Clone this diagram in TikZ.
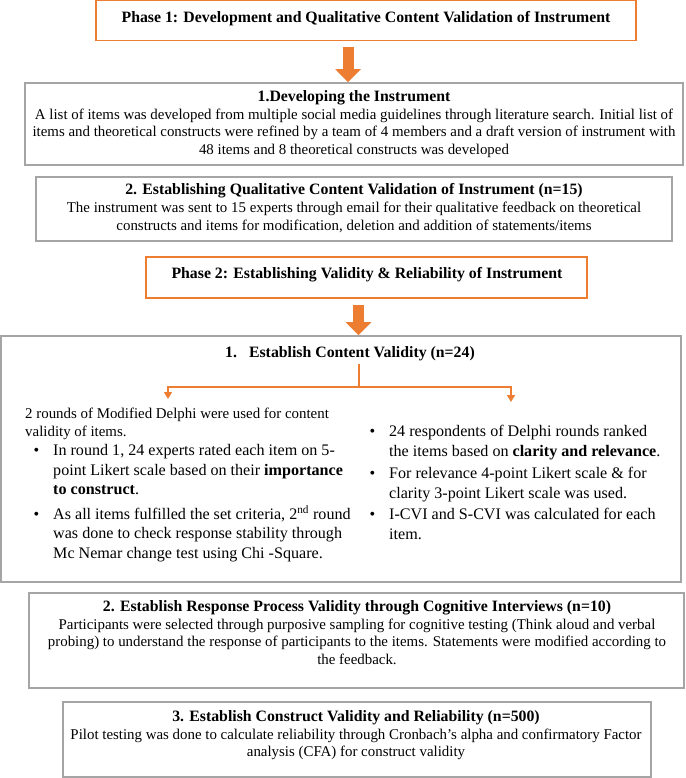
\documentclass[tikz,border=0pt]{standalone}
\usepackage{fontspec}
\setmainfont{Liberation Serif}
\usetikzlibrary{arrows.meta}

\definecolor{phaseorange}{HTML}{ED7D31}
\definecolor{boxgray}{HTML}{A5A5A5}
\newcommand{\hdfont}{\fontsize{15.8}{17.5}\selectfont\bfseries}
\newcommand{\bul}{\llap{\textbullet\hspace{14pt}}}

\begin{document}
\begin{tikzpicture}[
	x=1pt, y=-1pt,
	orangebox/.style={draw=phaseorange, line width=1.8pt, inner sep=0pt},
	graybox/.style={draw=boxgray, line width=1.8pt, inner sep=0pt},
	boxtext/.style={align=center, anchor=north, inner sep=0pt,
		font=\fontsize{14.9}{17.6}\selectfont},
	coltext/.style={align=left, anchor=north west, inner sep=0pt,
		font=\fontsize{16.1}{19.7}\selectfont},
	bigarrow/.style={draw=phaseorange, line width=11pt,
		-{Triangle[width=25pt,length=13pt]}},
	treeline/.style={draw=phaseorange, line width=1.4pt},
]
	\useasboundingbox (0,0) rectangle (685,778);

	% phase 1
	\node[orangebox, minimum width=540, minimum height=40] (phase1) at (366,20.5) {};
	\node[boxtext, font=\hdfont] (phase1txt) at (366,11)
		{Phase 1: Development and Qualitative Content Validation of Instrument};

	\node[graybox, minimum width=658, minimum height=82] (dev) at (354,124) {};
	\node[boxtext] (devtxt) at (354,90.5) {{\hdfont 1.Developing the Instrument}\\
		A list of items was developed from multiple social media guidelines through literature search. Initial list of\\
		items and theoretical constructs were refined by a team of 4 members and a draft version of instrument with\\
		48 items and 8 theoretical constructs was developed};

	\node[graybox, minimum width=636, minimum height=64] (qual) at (354,209) {};
	\node[boxtext] (qualtxt) at (354,183.5) {{\hdfont 2. Establishing Qualitative Content Validation of Instrument (n=15)}\\
		The instrument was sent to 15 experts through email for their qualitative feedback on theoretical\\
		constructs and items for modification, deletion and addition of statements/items};

	% phase 2
	\node[orangebox, minimum width=441, minimum height=41] (phase2) at (366.5,277.5) {};
	\node[boxtext, font=\hdfont] (phase2txt) at (367,267)
		{Phase 2: Establishing Validity \& Reliability of Instrument};

	\node[graybox, minimum width=680, minimum height=246] (cv) at (341,459) {};
	\node[boxtext, font=\hdfont] (cvtxt) at (350,346.5)
		{1.\hspace{12pt}Establish Content Validity (n=24)};

	\node[graybox, minimum width=655, minimum height=95] (resp) at (356.5,640.5) {};
	\node[boxtext] (resptxt) at (357,600.5) {{\hdfont 2. Establish Response Process Validity through Cognitive Interviews (n=10)}\\
		Participants were selected through purposive sampling for cognitive testing (Think aloud and verbal\\
		probing) to understand the response of participants to the items. Statements were modified according to\\
		the feedback.};

	\node[graybox, minimum width=588, minimum height=75] (constr) at (357,739.5) {};
	\node[boxtext] (constrtxt) at (356,710.5) {{\hdfont 3. Establish Construct Validity and Reliability (n=500)}\\
		Pilot testing was done to calculate reliability through Cronbach’s alpha and confirmatory Factor\\
		analysis (CFA) for construct validity};

	% block arrows
	\coordinate (arrow1) at (348,47);
	\coordinate (arrow2) at (358.5,305);
	\draw[bigarrow] (arrow1) -- (arrow1 |- dev.north);
	\draw[bigarrow] (arrow2) -- (arrow2 |- cv.north);

	% split into the two columns
	\coordinate (split) at (359,387);
	\coordinate (leftcol) at (168,399);
	\coordinate (rightcol) at (511,402);
	\draw[treeline] (split |- 0,364) -- (split);
	\draw[treeline, -{Triangle[width=8pt,length=7pt]}] (split) -| (leftcol);
	\draw[treeline, -{Triangle[width=8pt,length=7pt]}] (split) -| (rightcol);

	% left column
	\node[coltext, font=\fontsize{14.9}{18}\selectfont] (intro) at (25,408)
		{2 rounds of Modified Delphi were used for content\\
		validity of items.};
	\node[coltext] (litem1) at (53,444) {\bul In round 1, 24 experts rated each item on 5-\\
		point Likert scale based on their \textbf{importance}\\
		\textbf{to construct}.};
	\node[coltext] (litem2) at (53,505) {\bul As all items fulfilled the set criteria, 2\textsuperscript{nd} round\\
		was done to check response stability through\\
		Mc Nemar change test using Chi -Square.};

	% right column
	\node[coltext] (ritem1) at (389,425) {\bul 24 respondents of Delphi rounds ranked\\
		the items based on \textbf{clarity and relevance}.};
	\node[coltext] (ritem2) at (389,467) {\bul For relevance 4-point Likert scale \& for\\
		clarity 3-point Likert scale was used.};
	\node[coltext] (ritem3) at (389,508) {\bul I-CVI and S-CVI was calculated for each\\
		item.};
\end{tikzpicture}
\end{document}
